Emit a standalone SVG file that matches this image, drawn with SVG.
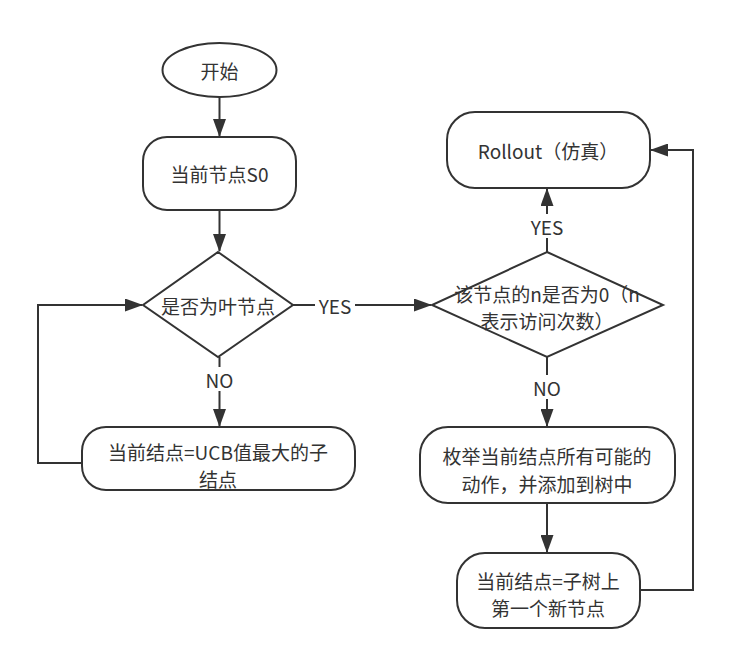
<svg xmlns="http://www.w3.org/2000/svg" width="730" height="666" viewBox="0 0 730 666">
<style>
.s{fill:#fff;stroke:#333;stroke-width:2}
.t{font-family:"Noto Sans CJK SC","Noto Sans",sans-serif;font-size:19px;fill:#333;text-anchor:middle;dominant-baseline:central}
.c{fill:none;stroke:#333;stroke-width:2}
</style>
<defs>
<marker id="a" viewBox="0 0 18 13" refX="17" refY="6.5" markerWidth="18" markerHeight="13" orient="auto" markerUnits="userSpaceOnUse"><path d="M0,0 L18,6.5 L0,13 z" fill="#333"/></marker>
</defs>
<rect width="730" height="666" fill="#fff"/>
<g id="connectors">
<path class="c" d="M219.5,97 V136" marker-end="url(#a)"/>
<path class="c" d="M219.5,210 V251" marker-end="url(#a)"/>
<path class="c" d="M219.5,357 V367 M219.5,391 V426" marker-end="url(#a)"/>
<path class="c" d="M82,463 H38 V305 H142" marker-end="url(#a)"/>
<path class="c" d="M293,305 H315 M355,305 H431" marker-end="url(#a)"/>
<path class="c" d="M547,252 V238 M547,214 V189" marker-end="url(#a)"/>
<path class="c" d="M547,357 V375 M547,399 V426" marker-end="url(#a)"/>
<path class="c" d="M547,503 V552" marker-end="url(#a)"/>
<path class="c" d="M640,590 H693 V150 H651" marker-end="url(#a)"/>
<text class="t" x="219.5" y="379">NO</text>
<text class="t" x="335" y="305">YES</text>
<text class="t" x="547" y="226">YES</text>
<text class="t" x="547" y="387">NO</text>
</g>
<g id="start"><ellipse class="s" cx="219.5" cy="70" rx="57" ry="27"/><text class="t" x="219.5" y="70">开始</text></g>
<g id="s0"><rect class="s" x="143" y="137" width="153" height="73" rx="24"/><text class="t" x="219.5" y="173.5">当前节点S0</text></g>
<g id="leaf"><path class="s" d="M218,252 L293,305 L218,357 L143,305 Z"/><text class="t" x="218" y="305">是否为叶节点</text></g>
<g id="ucb"><rect class="s" x="82" y="427" width="273" height="63" rx="24"/><text class="t" x="218" y="451">当前结点=UCB值最大的子</text><text class="t" x="218" y="478">结点</text></g>
<g id="n0"><path class="s" d="M547,252 L663,305 L547,357 L432,305 Z"/><text class="t" x="547" y="293">该节点的n是否为0（n</text><text class="t" x="547" y="320">表示访问次数）</text></g>
<g id="rollout"><rect class="s" x="447" y="112" width="203" height="76" rx="28"/><text class="t" x="548" y="150">Rollout（仿真）</text></g>
<g id="expand"><rect class="s" x="420" y="427" width="255" height="76" rx="28"/><text class="t" x="547" y="455">枚举当前结点所有可能的</text><text class="t" x="547" y="483">动作，并添加到树中</text></g>
<g id="newnode"><rect class="s" x="457" y="553" width="183" height="75" rx="28"/><text class="t" x="548" y="580">当前结点=子树上</text><text class="t" x="548" y="607">第一个新节点</text></g>
</svg>
